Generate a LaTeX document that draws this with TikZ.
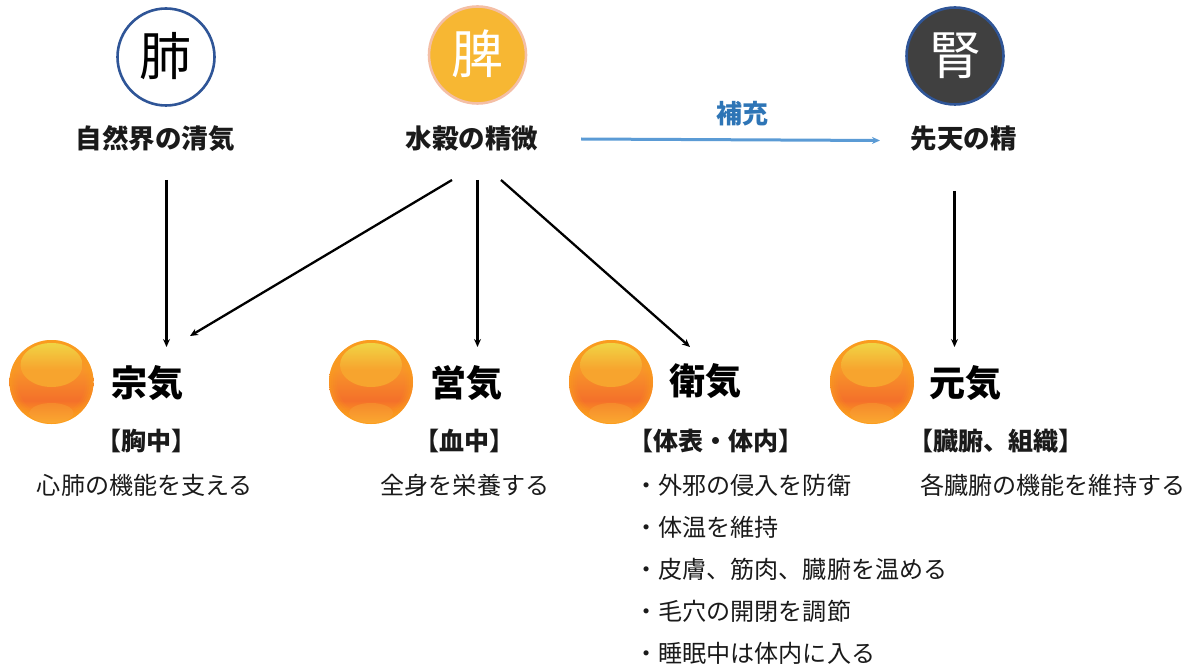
\documentclass[tikz,border=0pt]{standalone}
\usepackage{fontspec}
\usetikzlibrary{arrows.meta,calc}
\setmainfont{Noto Sans CJK JP}
\definecolor{ringblue}{HTML}{2F5597}
\definecolor{spleen}{HTML}{F7B733}
\definecolor{spleenring}{HTML}{F4BFA6}
\definecolor{kidney}{HTML}{404040}
\definecolor{tonify}{HTML}{2E75B6}
\definecolor{tonifyline}{HTML}{5B9BD5}
\definecolor{ink}{HTML}{1A1A1A}
\definecolor{ballrim}{HTML}{FC9E1E}
\definecolor{ballred}{HTML}{F4702A}
\definecolor{ballmid}{HTML}{F8962A}
\definecolor{balltop}{HTML}{FA9C22}
\definecolor{ballgl}{HTML}{F7A42E}
\definecolor{ballyel}{HTML}{F0D444}
\definecolor{ballbotl}{HTML}{FBA830}
\definecolor{ballbotd}{HTML}{F58A2C}
\pgfdeclareverticalshading{ballbase}{100bp}{
 color(0bp)=(ballrim); color(25bp)=(ballrim); color(29bp)=(ballrim); color(39bp)=(ballred);
 color(58bp)=(ballmid); color(75bp)=(balltop); color(100bp)=(balltop)}
\pgfdeclareverticalshading{ballglow}{100bp}{
 color(0bp)=(ballgl); color(25bp)=(ballgl); color(45bp)=(ballgl); color(75bp)=(ballyel); color(100bp)=(ballyel)}
\pgfdeclareverticalshading{ballglowlow}{100bp}{
 color(0bp)=(ballbotl); color(25bp)=(ballbotl); color(75bp)=(ballbotd); color(100bp)=(ballbotd)}
\tikzset{
 x=1pt,y=-1pt,
 organ/.style={circle,minimum size=97pt,inner sep=0pt,line width=2.6pt},
 ball/.style={circle,minimum size=84pt,inner sep=0pt,shading=ballbase,
   path picture={
     \foreach \w/\o in {16/.12,12/.15,8/.2,4/.3}{
       \draw[ballrim,line width=\w pt,opacity=\o] (path picture bounding box.center) circle [radius=42pt];}
     \shade[shading=ballglow] ($(path picture bounding box.center)+(0,-17)$) ellipse [x radius=31pt,y radius=22pt];
     \shade[shading=ballglowlow] ($(path picture bounding box.center)+(0,31)$) ellipse [x radius=22pt,y radius=10pt];
   }},
 organtext/.style={font=\fontsize{52}{52}\selectfont,inner sep=0pt,anchor=base},
 qihead/.style={font=\bfseries\fontsize{36}{36}\selectfont,inner sep=0pt,anchor=base,text=black},
 source/.style={font=\bfseries\fontsize{26.5}{26.5}\selectfont,inner sep=0pt,anchor=base,text=ink},
 place/.style={font=\bfseries\fontsize{25}{25}\selectfont,inner sep=0pt,anchor=base,text=ink},
 body/.style={font=\fontsize{24.1}{24.1}\selectfont,inner sep=0pt,anchor=base,text=ink},
 bodyl/.style={font=\fontsize{24.1}{24.1}\selectfont,inner sep=0pt,anchor=base west,text=ink},
 flow/.style={line width=2.3pt,black,-{Stealth[length=8pt,width=7pt]}},
 tonifyflow/.style={line width=3pt,tonifyline,-{Stealth[length=8pt,width=7pt]}}
}
\begin{document}
\begin{tikzpicture}
\useasboundingbox (0,0) rectangle (1190,668);
% organs
\node[organ,draw=ringblue,fill=white] (lung) at (166,57) {};
\node[organ,draw=spleenring,fill=spleen] (spl) at (477.5,55) {};
\node[organ,draw=ringblue,fill=kidney] (kid) at (955,56) {};
\node[organtext,text=black] (lungt) at (165.5,76) {肺};
\node[organtext,text=white] (splt) at (477,74) {脾};
\node[organtext,text=white] (kidt) at (955,75) {腎};
% sources
\node[source] (air) at (155,149) {自然界の清気};
\node[source] (grain) at (472,149) {水穀の精微};
\node[source] (prenatal) at (963.5,149) {先天の精};
\node[font=\bfseries\fontsize{26}{26}\selectfont,inner sep=0pt,anchor=base,text=tonify] (hoju) at (742,124) {補充};
% balls
\node[ball] (b1) at (51.5,382) {};
\node[ball] (b2) at (371,382) {};
\node[ball] (b3) at (611,382) {};
\node[ball] (b4) at (872,382) {};
% qi names
\node[qihead] (so) at (147,396) {宗気};
\node[qihead] (ei) at (466.5,396) {営気};
\node[qihead] (eki) at (705,394) {衛気};
\node[qihead] (gen) at (965.5,396) {元気};
% connector ends
\coordinate (a1s) at (166.5,180); \coordinate (a1e) at (166.5,347);
\coordinate (a2s) at (452,180); \coordinate (a2e) at (190,336);
\coordinate (a3s) at (477.5,180); \coordinate (a3e) at (477.5,347);
\coordinate (a4s) at (501,180); \coordinate (a4e) at (690,347);
\coordinate (a5s) at (581,139); \coordinate (a5e) at (880,140.5);
\coordinate (a6s) at (954.5,191); \coordinate (a6e) at (954.5,347);
\draw[flow] (a1s) -- (a1e);
\draw[flow] (a2s) -- (a2e);
\draw[flow] (a3s) -- (a3e);
\draw[flow] (a4s) -- (a4e);
\draw[tonifyflow] (a5s) -- (a5e);
\draw[flow] (a6s) -- (a6e);
% places
\node[place] (p1) at (146,450) {【胸中】};
\node[place] (p2) at (464,450) {【血中】};
\node[place] (p3) at (716,450) {【体表・体内】};
\node[place] (p4) at (996,450) {【臓腑、組織】};
% body
\node[body] (t1) at (145,494) {心肺の機能を支える};
\node[body] (t2) at (465,494) {全身を栄養する};
\node[bodyl] (t3) at (634,494) {・外邪の侵入を防衛};
\node[bodyl] (t4) at (634,536) {・体温を維持};
\node[bodyl] (t5) at (634,578) {・皮膚、筋肉、臓腑を温める};
\node[bodyl] (t6) at (634,620) {・毛穴の開閉を調節};
\node[bodyl] (t7) at (634,662) {・睡眠中は体内に入る};
\node[bodyl] (t8) at (920,494) {各臓腑の機能を維持する};
\end{tikzpicture}
\end{document}
